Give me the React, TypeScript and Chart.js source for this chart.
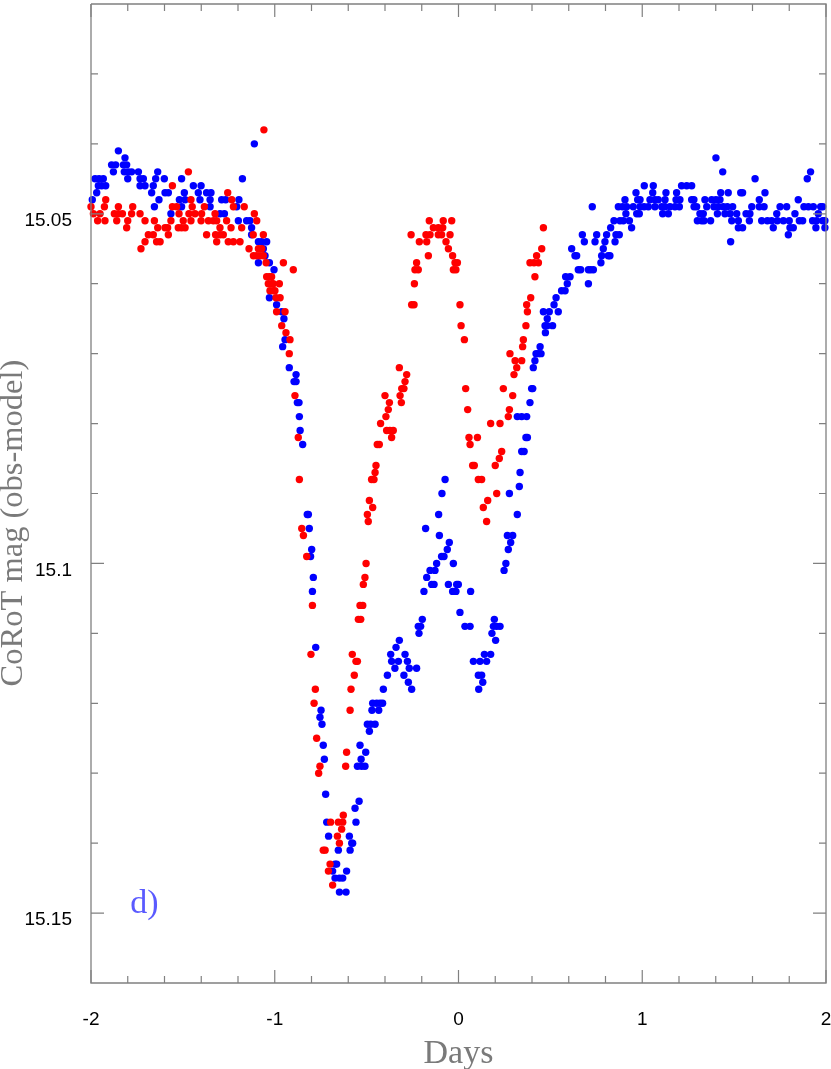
import React, { useEffect, useRef } from "react";
import { Chart, registerables } from "chart.js";

Chart.register(...registerables);

// ---- data: [days, CoRoT mag] ----
const bluePoints: [number, number][] = [
  [-1.993, 15.048], [-1.969, 15.047], [-1.978, 15.045], [-1.956, 15.045], [-1.933, 15.045],
  [-1.96, 15.046], [-1.942, 15.046], [-1.92, 15.046], [-1.888, 15.043], [-1.866, 15.043],
  [-1.878, 15.044], [-1.851, 15.041], [-1.815, 15.042], [-1.824, 15.043], [-1.806, 15.043],
  [-1.819, 15.044], [-1.797, 15.044], [-1.779, 15.044], [-1.8, 15.045], [-1.742, 15.044],
  [-1.733, 15.045], [-1.715, 15.045], [-1.733, 15.046], [-1.706, 15.046], [-1.67, 15.047],
  [-1.661, 15.046], [-1.648, 15.045], [-1.637, 15.044], [-1.63, 15.048], [-1.655, 15.049],
  [-1.601, 15.045], [-1.597, 15.047], [-1.579, 15.047], [-1.565, 15.05], [-1.507, 15.045],
  [-1.507, 15.049], [-1.492, 15.047], [-1.519, 15.048], [-1.488, 15.048], [-1.443, 15.046],
  [-1.401, 15.046], [-1.416, 15.047], [-1.407, 15.048], [-1.371, 15.047], [-1.347, 15.047],
  [-1.352, 15.048], [-1.352, 15.049], [-1.289, 15.048], [-1.267, 15.048], [-1.298, 15.05],
  [-1.274, 15.05], [-1.207, 15.049], [-1.195, 15.048], [-1.176, 15.045], [-1.198, 15.051],
  [-1.153, 15.051], [-1.135, 15.051], [-1.126, 15.052], [-1.126, 15.053], [-1.089, 15.054],
  [-1.071, 15.054], [-1.111, 15.04],
  [-1.044, 15.054], [-1.062, 15.055], [-1.053, 15.056], [-1.089, 15.057], [-1.029, 15.057],
  [-1.004, 15.058], [-1.029, 15.062], [-0.99, 15.063], [-0.962, 15.064], [-0.95, 15.065],
  [-0.944, 15.068], [-0.957, 15.069], [-0.921, 15.072], [-0.884, 15.073], [-0.895, 15.074],
  [-0.884, 15.074], [-0.877, 15.077], [-0.868, 15.077], [-0.866, 15.079], [-0.862, 15.081],
  [-0.848, 15.083], [-0.823, 15.093], [-0.817, 15.093], [-0.812, 15.095],
  [-0.799, 15.098], [-0.805, 15.099], [-0.79, 15.102], [-0.795, 15.104], [-0.777, 15.112],
  [-0.369, 15.113], [-0.34, 15.112], [-0.322, 15.111], [-0.364, 15.114], [-0.327, 15.114],
  [-0.278, 15.114], [-0.291, 15.113], [-0.346, 15.115], [-0.268, 15.115], [-0.228, 15.115],
  [-0.387, 15.116], [-0.297, 15.116], [-0.273, 15.117], [-0.409, 15.118], [-0.255, 15.118],
  [-0.467, 15.12], [-0.445, 15.12], [-0.427, 15.12], [-0.413, 15.12], [-0.748, 15.121],
  [-0.471, 15.121], [-0.434, 15.121], [-0.754, 15.122], [-0.743, 15.123], [-0.496, 15.123],
  [-0.478, 15.123], [-0.454, 15.123], [-0.485, 15.124], [-0.736, 15.126], [-0.536, 15.126],
  [-0.505, 15.127], [-0.73, 15.128], [-0.53, 15.128], [-0.55, 15.129], [-0.527, 15.129],
  [-0.509, 15.129], [-0.723, 15.133], [-0.541, 15.134], [-0.563, 15.135], [-0.717, 15.137],
  [-0.558, 15.137], [-0.707, 15.139], [-0.594, 15.139], [-0.581, 15.14], [-0.576, 15.14],
  [-0.654, 15.141], [-0.59, 15.141], [-0.672, 15.143], [-0.663, 15.143], [-0.685, 15.144],
  [-0.609, 15.144], [-0.672, 15.145], [-0.648, 15.145], [-0.63, 15.145], [-0.648, 15.147],
  [-0.612, 15.147],
  [-0.073, 15.088], [-0.09, 15.09], [-0.108, 15.093], [-0.179, 15.095], [-0.104, 15.096],
  [0.416, 15.071], [0.407, 15.072], [0.422, 15.07], [0.435, 15.07], [0.398, 15.075],
  [0.404, 15.075], [0.389, 15.077], [0.32, 15.079], [0.344, 15.079], [0.371, 15.079],
  [0.367, 15.082], [0.375, 15.082], [0.344, 15.084], [0.357, 15.084], [0.335, 15.087],
  [0.331, 15.089], [0.277, 15.09], [0.32, 15.093], [0.266, 15.096], [0.295, 15.096],
  [-0.05, 15.097], [-0.061, 15.098], [-0.092, 15.099], [-0.079, 15.099], [-0.119, 15.1],
  [-0.028, 15.1], [-0.155, 15.101], [-0.128, 15.101], [-0.173, 15.102], [-0.146, 15.103],
  [-0.133, 15.103], [-0.055, 15.103], [-0.01, 15.103], [-0.001, 15.103], [-0.188, 15.104],
  [-0.032, 15.104], [-0.014, 15.104], [0.066, 15.104], [0.008, 15.107], [-0.197, 15.108],
  [-0.219, 15.109], [-0.206, 15.109], [-0.215, 15.11], [0.035, 15.109], [0.063, 15.109],
  [0.195, 15.108], [0.19, 15.109], [0.208, 15.109], [0.226, 15.109], [0.182, 15.11],
  [0.202, 15.111], [0.141, 15.113], [0.175, 15.113], [0.081, 15.114], [0.117, 15.114],
  [0.153, 15.114], [0.108, 15.116], [0.126, 15.116], [0.132, 15.117], [0.11, 15.118],
  [0.284, 15.097], [0.271, 15.098], [0.258, 15.1], [0.248, 15.101],
  [1.011, 15.046], [1.06, 15.046], [1.214, 15.046], [1.242, 15.046], [0.966, 15.047],
  [1.057, 15.047], [1.129, 15.047], [1.187, 15.047], [0.906, 15.048], [0.975, 15.048],
  [0.988, 15.048], [1.042, 15.048], [1.069, 15.048], [1.087, 15.048], [1.124, 15.048],
  [1.184, 15.048], [1.205, 15.048], [0.728, 15.049], [0.87, 15.049], [0.893, 15.049],
  [0.915, 15.049], [0.951, 15.049], [0.988, 15.049], [1.01, 15.049], [1.033, 15.049],
  [1.069, 15.049], [1.106, 15.049], [1.124, 15.049], [1.151, 15.049], [1.178, 15.049],
  [1.202, 15.049], [0.911, 15.05], [0.97, 15.05], [0.984, 15.05], [1.111, 15.05],
  [1.142, 15.05], [0.846, 15.051], [0.879, 15.051], [0.897, 15.051], [0.93, 15.051],
  [0.828, 15.052], [0.942, 15.052], [0.674, 15.053], [0.752, 15.053], [0.806, 15.053],
  [0.857, 15.053], [0.875, 15.053], [0.685, 15.054], [0.743, 15.054], [0.797, 15.054],
  [0.852, 15.054], [0.616, 15.055], [0.788, 15.055], [0.634, 15.056], [0.643, 15.056],
  [0.779, 15.056], [0.815, 15.056], [0.824, 15.056], [0.775, 15.057], [0.652, 15.058],
  [0.665, 15.058], [0.707, 15.058], [0.719, 15.058], [0.734, 15.058], [0.583, 15.059],
  [0.607, 15.059], [0.592, 15.06], [0.707, 15.06], [0.561, 15.061], [0.58, 15.061],
  [0.531, 15.062], [0.52, 15.063], [0.462, 15.064], [0.494, 15.064], [0.543, 15.064],
  [0.483, 15.065], [0.471, 15.066], [0.483, 15.066], [0.512, 15.066], [0.473, 15.067],
  [0.444, 15.069], [0.449, 15.07],
  [1.401, 15.042], [1.438, 15.044], [1.614, 15.045], [1.898, 15.045], [1.916, 15.044],
  [1.269, 15.046], [1.427, 15.047], [1.468, 15.047], [1.536, 15.047], [1.546, 15.047],
  [1.668, 15.047], [1.269, 15.048], [1.281, 15.048], [1.341, 15.048], [1.378, 15.048],
  [1.401, 15.048], [1.423, 15.048], [1.637, 15.048], [1.849, 15.048], [1.282, 15.049],
  [1.296, 15.049], [1.351, 15.049], [1.39, 15.049], [1.414, 15.049], [1.441, 15.049],
  [1.463, 15.049], [1.492, 15.049], [1.596, 15.049], [1.637, 15.049], [1.663, 15.049],
  [1.75, 15.049], [1.786, 15.049], [1.88, 15.049], [1.904, 15.049], [1.931, 15.049],
  [1.971, 15.049], [1.982, 15.049], [1.314, 15.05], [1.332, 15.05], [1.409, 15.05],
  [1.45, 15.05], [1.478, 15.05], [1.514, 15.05], [1.565, 15.05], [1.586, 15.05],
  [1.732, 15.05], [1.831, 15.05], [1.958, 15.05], [1.3, 15.051], [1.323, 15.051],
  [1.336, 15.051], [1.372, 15.051], [1.487, 15.051], [1.523, 15.051], [1.583, 15.051],
  [1.65, 15.051], [1.681, 15.051], [1.704, 15.051], [1.735, 15.051], [1.768, 15.051],
  [1.8, 15.051], [1.855, 15.051], [1.873, 15.051], [1.927, 15.051], [1.949, 15.051],
  [1.982, 15.051], [1.994, 15.051], [1.523, 15.052], [1.546, 15.052], [1.713, 15.052],
  [1.804, 15.052], [1.822, 15.052], [1.945, 15.052], [1.994, 15.052], [1.795, 15.053],
  [1.481, 15.054],
];

const redPoints: [number, number][] = [
  [-2.0, 15.049], [-1.987, 15.05], [-1.951, 15.05], [-1.964, 15.051], [-1.924, 15.051],
  [-1.92, 15.048], [-1.927, 15.049], [-1.873, 15.05], [-1.851, 15.05], [-1.829, 15.05],
  [-1.851, 15.049], [-1.86, 15.051], [-1.806, 15.052], [-1.8, 15.051], [-1.779, 15.05],
  [-1.773, 15.049], [-1.733, 15.05], [-1.728, 15.055], [-1.706, 15.054], [-1.706, 15.051],
  [-1.688, 15.053], [-1.661, 15.053], [-1.655, 15.051], [-1.643, 15.054], [-1.624, 15.054],
  [-1.637, 15.052], [-1.597, 15.052], [-1.583, 15.052], [-1.579, 15.053], [-1.565, 15.051],
  [-1.557, 15.046], [-1.557, 15.049], [-1.534, 15.049], [-1.521, 15.05], [-1.525, 15.052],
  [-1.507, 15.052], [-1.488, 15.052], [-1.498, 15.051], [-1.47, 15.044], [-1.456, 15.048],
  [-1.449, 15.049], [-1.467, 15.05], [-1.434, 15.05], [-1.456, 15.051], [-1.383, 15.049],
  [-1.398, 15.05], [-1.401, 15.051], [-1.371, 15.053], [-1.361, 15.051], [-1.334, 15.051],
  [-1.316, 15.051], [-1.325, 15.05], [-1.322, 15.053], [-1.298, 15.053], [-1.28, 15.053],
  [-1.316, 15.054], [-1.298, 15.052], [-1.256, 15.047], [-1.262, 15.051], [-1.253, 15.054],
  [-1.225, 15.054], [-1.189, 15.054], [-1.238, 15.052], [-1.234, 15.048], [-1.225, 15.049],
  [-1.18, 15.052], [-1.166, 15.049], [-1.14, 15.055], [-1.117, 15.053], [-1.111, 15.05],
  [-1.098, 15.051], [-1.059, 15.038],
  [-1.062, 15.053], [-1.089, 15.055], [-1.071, 15.055], [-1.116, 15.056], [-1.098, 15.056],
  [-1.08, 15.056], [-1.062, 15.056], [-1.047, 15.057], [-0.953, 15.057], [-0.899, 15.058],
  [-1.044, 15.059], [-1.029, 15.059], [-1.017, 15.059], [-1.035, 15.06], [-1.017, 15.06],
  [-1.008, 15.06], [-0.975, 15.06], [-1.026, 15.061], [-1.008, 15.061], [-0.999, 15.061],
  [-0.993, 15.062], [-0.971, 15.062], [-0.99, 15.064], [-0.944, 15.064], [-0.962, 15.066],
  [-0.939, 15.067], [-0.917, 15.068], [-0.921, 15.07], [-0.89, 15.076], [-0.872, 15.082],
  [-0.866, 15.088], [-0.853, 15.095], [-0.844, 15.096],
  [-0.826, 15.099], [-0.503, 15.1], [-0.509, 15.102], [-0.518, 15.103], [-0.795, 15.106],
  [-0.536, 15.106], [-0.521, 15.106], [-0.545, 15.108], [-0.532, 15.108], [-0.803, 15.113],
  [-0.578, 15.113], [-0.558, 15.114], [-0.55, 15.114], [-0.567, 15.116], [-0.779, 15.118],
  [-0.585, 15.118], [-0.786, 15.12], [-0.59, 15.121], [-0.772, 15.125], [-0.609, 15.127],
  [-0.754, 15.129], [-0.614, 15.129], [-0.761, 15.13], [-0.627, 15.136], [-0.696, 15.137],
  [-0.654, 15.137], [-0.63, 15.137], [-0.636, 15.138], [-0.659, 15.139], [-0.648, 15.14],
  [-0.736, 15.141], [-0.726, 15.141], [-0.699, 15.143], [-0.708, 15.144], [-0.685, 15.146],
  [-0.258, 15.053], [-0.213, 15.054], [-0.228, 15.057], [-0.237, 15.058], [-0.219, 15.058],
  [-0.24, 15.06], [-0.255, 15.063], [-0.242, 15.063], [-0.322, 15.072], [-0.282, 15.073],
  [-0.291, 15.074], [-0.309, 15.075], [-0.297, 15.075], [-0.4, 15.076], [-0.318, 15.076],
  [-0.376, 15.077], [-0.311, 15.077], [-0.382, 15.078], [-0.395, 15.079], [-0.424, 15.08],
  [-0.391, 15.081], [-0.373, 15.081], [-0.355, 15.081], [-0.364, 15.082], [-0.442, 15.083],
  [-0.431, 15.083], [-0.449, 15.086], [-0.454, 15.087], [-0.473, 15.088], [-0.46, 15.088],
  [-0.485, 15.091], [-0.467, 15.092], [-0.496, 15.093], [-0.491, 15.094],
  [-0.159, 15.051], [-0.083, 15.051], [-0.037, 15.051], [-0.137, 15.052], [-0.11, 15.052],
  [-0.086, 15.052], [-0.177, 15.053], [-0.155, 15.053], [-0.11, 15.053], [-0.092, 15.053],
  [-0.046, 15.053], [-0.173, 15.054], [-0.068, 15.054], [-0.055, 15.055], [-0.164, 15.056],
  [-0.032, 15.056], [0.425, 15.056], [-0.019, 15.057], [-0.006, 15.057], [0.389, 15.057],
  [0.411, 15.057], [0.435, 15.057], [-0.028, 15.058], [-0.014, 15.058], [0.416, 15.059],
  [0.393, 15.062], [0.371, 15.063], [0.008, 15.063], [0.375, 15.064], [0.014, 15.066],
  [0.367, 15.066], [0.032, 15.068], [0.353, 15.068], [0.349, 15.069], [0.28, 15.07],
  [0.308, 15.071], [0.344, 15.071], [0.317, 15.072], [0.302, 15.073], [0.039, 15.075],
  [0.244, 15.075], [0.295, 15.076], [0.05, 15.078], [0.277, 15.078], [0.271, 15.079],
  [0.175, 15.08], [0.226, 15.08], [0.057, 15.082], [0.103, 15.082], [0.063, 15.083],
  [0.235, 15.084], [0.222, 15.085], [0.077, 15.086], [0.086, 15.086], [0.2, 15.086],
  [0.108, 15.088], [0.126, 15.088], [0.208, 15.09], [0.159, 15.091], [0.135, 15.092],
  [0.153, 15.094], [0.462, 15.052], [0.453, 15.055],
];

// ---- axes ----
const xMin = -2;
const xMax = 2;
const yMin = 15.02;
const yMax = 15.16;
const xMajorTicks = [-2, -1, 0, 1, 2];
const xMinorTicks = [-1.8, -1.6, -1.4, -1.2, -0.8, -0.6, -0.4, -0.2, 0.2, 0.4, 0.6, 0.8, 1.2, 1.4, 1.6, 1.8];
const yMajorTicks = [15.05, 15.1, 15.15];
const yTickLabels = ["15.05", "15.1", "15.15"];
const yMinorTicks = [15.03, 15.04, 15.06, 15.07, 15.08, 15.09, 15.11, 15.12, 15.13, 15.14];
const xTitle = "Days";
const yTitle = "CoRoT mag (obs-model)";
const panelLabel = "d)";
const panelLabelPos: [number, number] = [-1.787, 15.15];

const W = 831;
const H = 1069;
const AXIS_COLOR = "#808080";
const TITLE_COLOR = "#7a7a7a";
const SERIF = '"Liberation Serif", "DejaVu Serif", serif';
const SANS = '"Liberation Sans", Arial, sans-serif';

const framePlugin = {
  id: "frame",
  afterDatasetsDraw(chart: any) {
    const { ctx, chartArea, scales } = chart;
    const { left, right, top, bottom } = chartArea;
    const xs = scales.x;
    const ys = scales.y;
    ctx.save();
    ctx.strokeStyle = AXIS_COLOR;
    ctx.lineWidth = 1.3;
    ctx.beginPath();
    ctx.moveTo(left, top);
    ctx.lineTo(left, bottom);
    ctx.lineTo(right, bottom);
    ctx.lineTo(right, top);
    ctx.lineTo(left, top);
    ctx.stroke();
    ctx.lineWidth = 1.2;
    ctx.beginPath();
    const xt = (v: number, len: number) => {
      const p = xs.getPixelForValue(v);
      ctx.moveTo(p, bottom);
      ctx.lineTo(p, bottom - len);
      ctx.moveTo(p, top);
      ctx.lineTo(p, top + len);
    };
    const yt = (v: number, len: number) => {
      const p = ys.getPixelForValue(v);
      ctx.moveTo(left, p);
      ctx.lineTo(left + len, p);
      ctx.moveTo(right, p);
      ctx.lineTo(right - len, p);
    };
    xMajorTicks.forEach((v) => xt(v, 13));
    xMinorTicks.forEach((v) => xt(v, 7));
    yMajorTicks.forEach((v) => yt(v, 13));
    yMinorTicks.forEach((v) => yt(v, 7));
    ctx.stroke();
    ctx.restore();
  },
  afterDraw(chart: any) {
    const { ctx, chartArea, scales } = chart;
    ctx.save();
    ctx.fillStyle = TITLE_COLOR;
    ctx.textAlign = "center";
    ctx.textBaseline = "alphabetic";
    ctx.font = `34px ${SERIF}`;
    ctx.fillText(xTitle, (chartArea.left + chartArea.right) / 2, 1063);
    ctx.save();
    ctx.font = `32.5px ${SERIF}`;
    ctx.translate(22, 523);
    ctx.rotate(-Math.PI / 2);
    ctx.fillText(yTitle, 0, 0);
    ctx.restore();
    ctx.font = `34px ${SERIF}`;
    ctx.fillStyle = "#5a5aff";
    ctx.textAlign = "left";
    ctx.fillText(
      panelLabel,
      scales.x.getPixelForValue(panelLabelPos[0]),
      scales.y.getPixelForValue(panelLabelPos[1])
    );
    ctx.restore();
  },
};

export default function App() {
  const ref = useRef<HTMLCanvasElement | null>(null);
  useEffect(() => {
    if (!ref.current) return;
    const chart = new Chart(ref.current, {
      type: "scatter",
      data: {
        datasets: [
          {
            label: "red",
            data: redPoints.map(([x, y]) => ({ x, y })),
            backgroundColor: "#ff0000",
            borderWidth: 0,
            pointRadius: 3.7,
            clip: false,
          },
          {
            label: "blue",
            data: bluePoints.map(([x, y]) => ({ x, y })),
            backgroundColor: "#0000ff",
            borderWidth: 0,
            pointRadius: 3.7,
            clip: false,
          },
        ],
      },
      options: {
        responsive: false,
        animation: false,
        events: [],
        layout: { padding: { left: 0, right: 5, top: 0, bottom: 0 } },
        plugins: {
          legend: { display: false },
          tooltip: { enabled: false },
          title: { display: false },
        },
        scales: {
          x: {
            type: "linear",
            position: "bottom",
            min: xMin,
            max: xMax,
            grid: { display: false, drawTicks: false },
            border: { display: false },
            afterBuildTicks: (s: any) => {
              s.ticks = xMajorTicks.map((v) => ({ value: v }));
            },
            afterFit: (s: any) => {
              s.height = H - 983;
              s.paddingLeft = 0;
              s.paddingRight = 0;
            },
            ticks: {
              autoSkip: false,
              maxRotation: 0,
              minRotation: 0,
              padding: 25,
              color: "#000000",
              font: { family: SANS, size: 19 },
              callback: (v: any) => String(v),
            },
          },
          y: {
            type: "linear",
            position: "left",
            min: yMin,
            max: yMax,
            reverse: true,
            grid: { display: false, drawTicks: false },
            border: { display: false },
            afterBuildTicks: (s: any) => {
              s.ticks = yMajorTicks.map((v) => ({ value: v }));
            },
            afterFit: (s: any) => {
              s.width = 91;
              s.paddingTop = 0;
              s.paddingBottom = 0;
            },
            ticks: {
              autoSkip: false,
              padding: 19,
              labelOffset: 7,
              color: "#000000",
              font: { family: SANS, size: 19 },
              callback: (v: any) => {
                const i = yMajorTicks.findIndex((t) => Math.abs(t - Number(v)) < 1e-6);
                return i >= 0 ? yTickLabels[i] : "";
              },
            },
          },
        },
      },
      plugins: [framePlugin],
    });
    return () => chart.destroy();
  }, []);
  return (
    <div style={{ position: "fixed", left: 0, top: 0, width: W, height: H, background: "#ffffff" }}>
      <canvas ref={ref} width={W} height={H} style={{ width: W, height: H, display: "block" }} />
    </div>
  );
}
